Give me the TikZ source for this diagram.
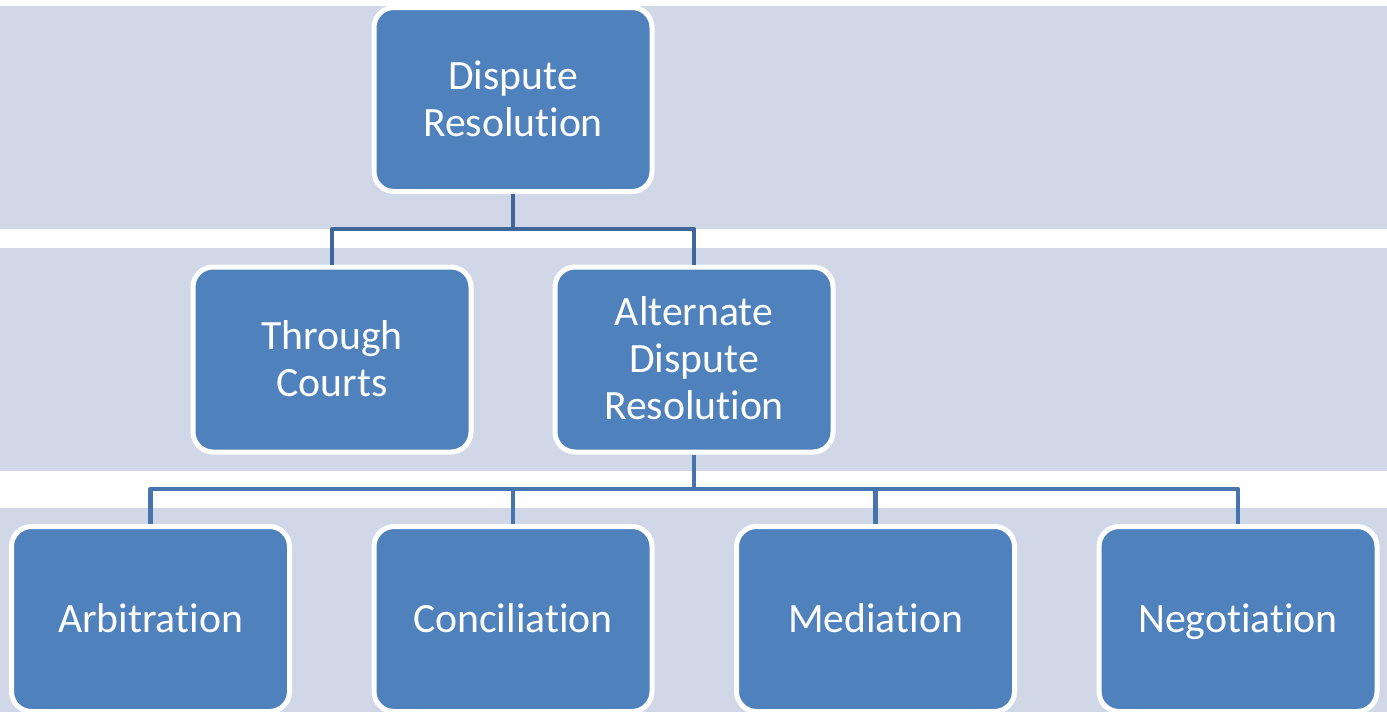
\documentclass[tikz,border=0pt]{standalone}
\usepackage{fontspec}
\setmainfont{Carlito}[Ligatures=NoCommon]
\definecolor{bandcol}{HTML}{D0D8E8}
\definecolor{boxcol}{HTML}{4F81BD}
\definecolor{conntop}{HTML}{40679A}
\definecolor{connbot}{HTML}{4774AD}
\newcommand\lnstrut{\rule[-9.2pt]{0pt}{45.2pt}}
\tikzset{
  band/.style={fill=bandcol, draw=none},
  orgbox/.style={draw=white, line width=5pt, fill=boxcol, rounded corners=20pt,
    minimum width=278pt, minimum height=185pt, inner sep=0pt, text=white,
    align=center, font=\fontsize{41.7}{47}\selectfont},
  conn/.style={line width=4.5pt, line join=round}
}
\begin{document}
\begin{tikzpicture}[x=1pt,y=-1pt]
\useasboundingbox (0,0) rectangle (1387,712);
\fill[white] (0,0) rectangle (1387,712);
\path[band] (0,6) rectangle (1387,229);
\path[band] (0,248) rectangle (1387,471);
\path[band] (0,508) rectangle (1387,712);

\node[orgbox, minimum height=184pt] (top) at (513,99.5) {\lnstrut Dispute\\\lnstrut Resolution};
\node[orgbox] (courts) at (332,359.5) {\lnstrut Through\\\lnstrut Courts};
\node[orgbox] (alt) at (694,359.5) {\lnstrut Alternate\\\lnstrut Dispute\\\lnstrut Resolution};
\node[orgbox] (arb) at (150.5,619) {\lnstrut Arbitration};
\node[orgbox] (con) at (513,619) {\lnstrut Conciliation};
\node[orgbox] (med) at (875.5,619) {\lnstrut Mediation};
\node[orgbox] (neg) at (1238,619) {\lnstrut Negotiation};

\coordinate (j1) at (513,229);
\draw[conn, conntop] (top.south) -- (j1);
\draw[conn, conntop] (courts.north) |- (j1) -| (alt.north);

\coordinate (j2) at (694,489);
\draw[conn, connbot] (alt.south) -- (j2);
\draw[conn, connbot] (arb.north) |- (j2) -| (neg.north);
\draw[conn, connbot] (con.north) -- (con.north |- j2);
\draw[conn, connbot] (med.north) -- (med.north |- j2);
\end{tikzpicture}
\end{document}
